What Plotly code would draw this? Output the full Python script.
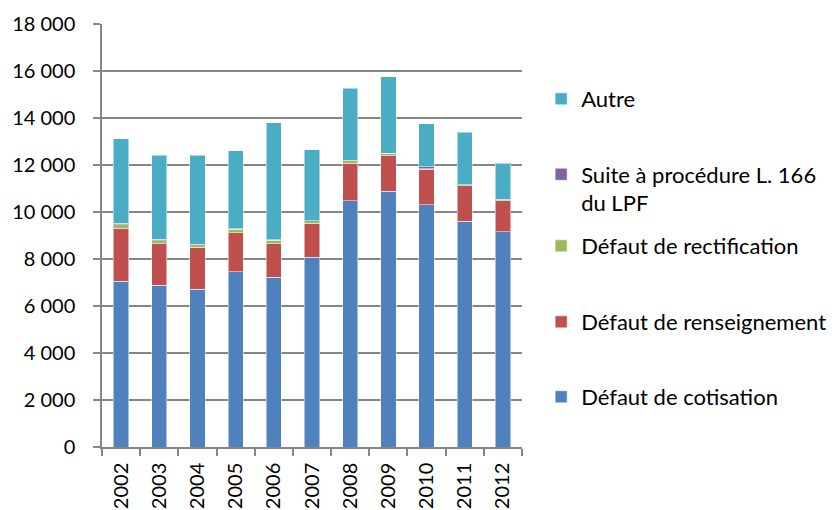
import plotly.graph_objects as go

years = ["2002", "2003", "2004", "2005", "2006", "2007", "2008", "2009", "2010", "2011", "2012"]
cotisation = [7060, 6890, 6710, 7460, 7220, 8080, 10480, 10880, 10300, 9600, 9150]
renseignement = [2240, 1760, 1790, 1660, 1420, 1450, 1590, 1520, 1520, 1520, 1330]
rectification = [150, 130, 100, 140, 150, 90, 110, 90, 20, 40, 40]
procedure = [70, 60, 20, 20, 20, 10, 30, 10, 80, 10, 20]
autre = [3600, 3580, 3790, 3320, 4990, 3020, 3050, 3260, 1830, 2230, 1530]

series = [
    ("Défaut de cotisation", cotisation, "#4F81BD"),
    ("Défaut de renseignement", renseignement, "#C0504D"),
    ("Défaut de rectification", rectification, "#9BBB59"),
    ("Suite à procédure L. 166<br>du LPF", procedure, "#8064A2"),
    ("Autre", autre, "#4BACC6"),
]
legend_names = ["legend5", "legend4", "legend3", "legend2", "legend"]
legend_y = [0.2216, 0.3686, 0.5176, 0.6294, 0.8059]

font = "Lato, 'Open Sans', sans-serif"
fig = go.Figure()
for (name, vals, col), lg in zip(series, legend_names):
    fig.add_trace(go.Bar(
        x=years, y=vals, name=name, legend=lg,
        marker=dict(color=col, line=dict(color="rgba(255,255,255,0.5)", width=1)),
    ))

layout_legends = {}
for lg, ly in zip(legend_names, legend_y):
    layout_legends[lg] = dict(
        xref="container", yref="container", x=0.645, y=ly,
        xanchor="left", yanchor="middle", valign="top",
        font=dict(family=font, size=22, color="black"),
        itemwidth=30, bgcolor="rgba(0,0,0,0)",
    )

fig.update_layout(
    barmode="stack",
    bargap=0.6,
    width=839, height=510,
    margin=dict(l=102, r=317, t=24, b=63),
    paper_bgcolor="white", plot_bgcolor="white",
    font=dict(family=font, size=20, color="black"),
    separators=", ",
    showlegend=True,
    xaxis=dict(
        type="category", tickangle=-90, ticks="outside", tickson="boundaries",
        ticklen=7, tickcolor="#868686", tickwidth=1.5,
        showline=True, linecolor="#868686", linewidth=1.5,
        tickfont=dict(family=font, size=20), ticklabelstandoff=6,
        automargin=False,
    ),
    yaxis=dict(
        range=[0, 18000], dtick=2000, tickformat=",d",
        ticks="outside", ticklen=7, tickcolor="#868686", tickwidth=1.5,
        showline=True, linecolor="#868686", linewidth=1.5,
        showgrid=True, gridcolor="#868686", gridwidth=1.5,
        zeroline=False,
        tickfont=dict(family=font, size=20), ticklabelstandoff=14,
        automargin=False,
    ),
    **layout_legends,
)

fig.write_html("out.html", config={"displayModeBar": False},
               post_script="document.body.style.margin='0';")
